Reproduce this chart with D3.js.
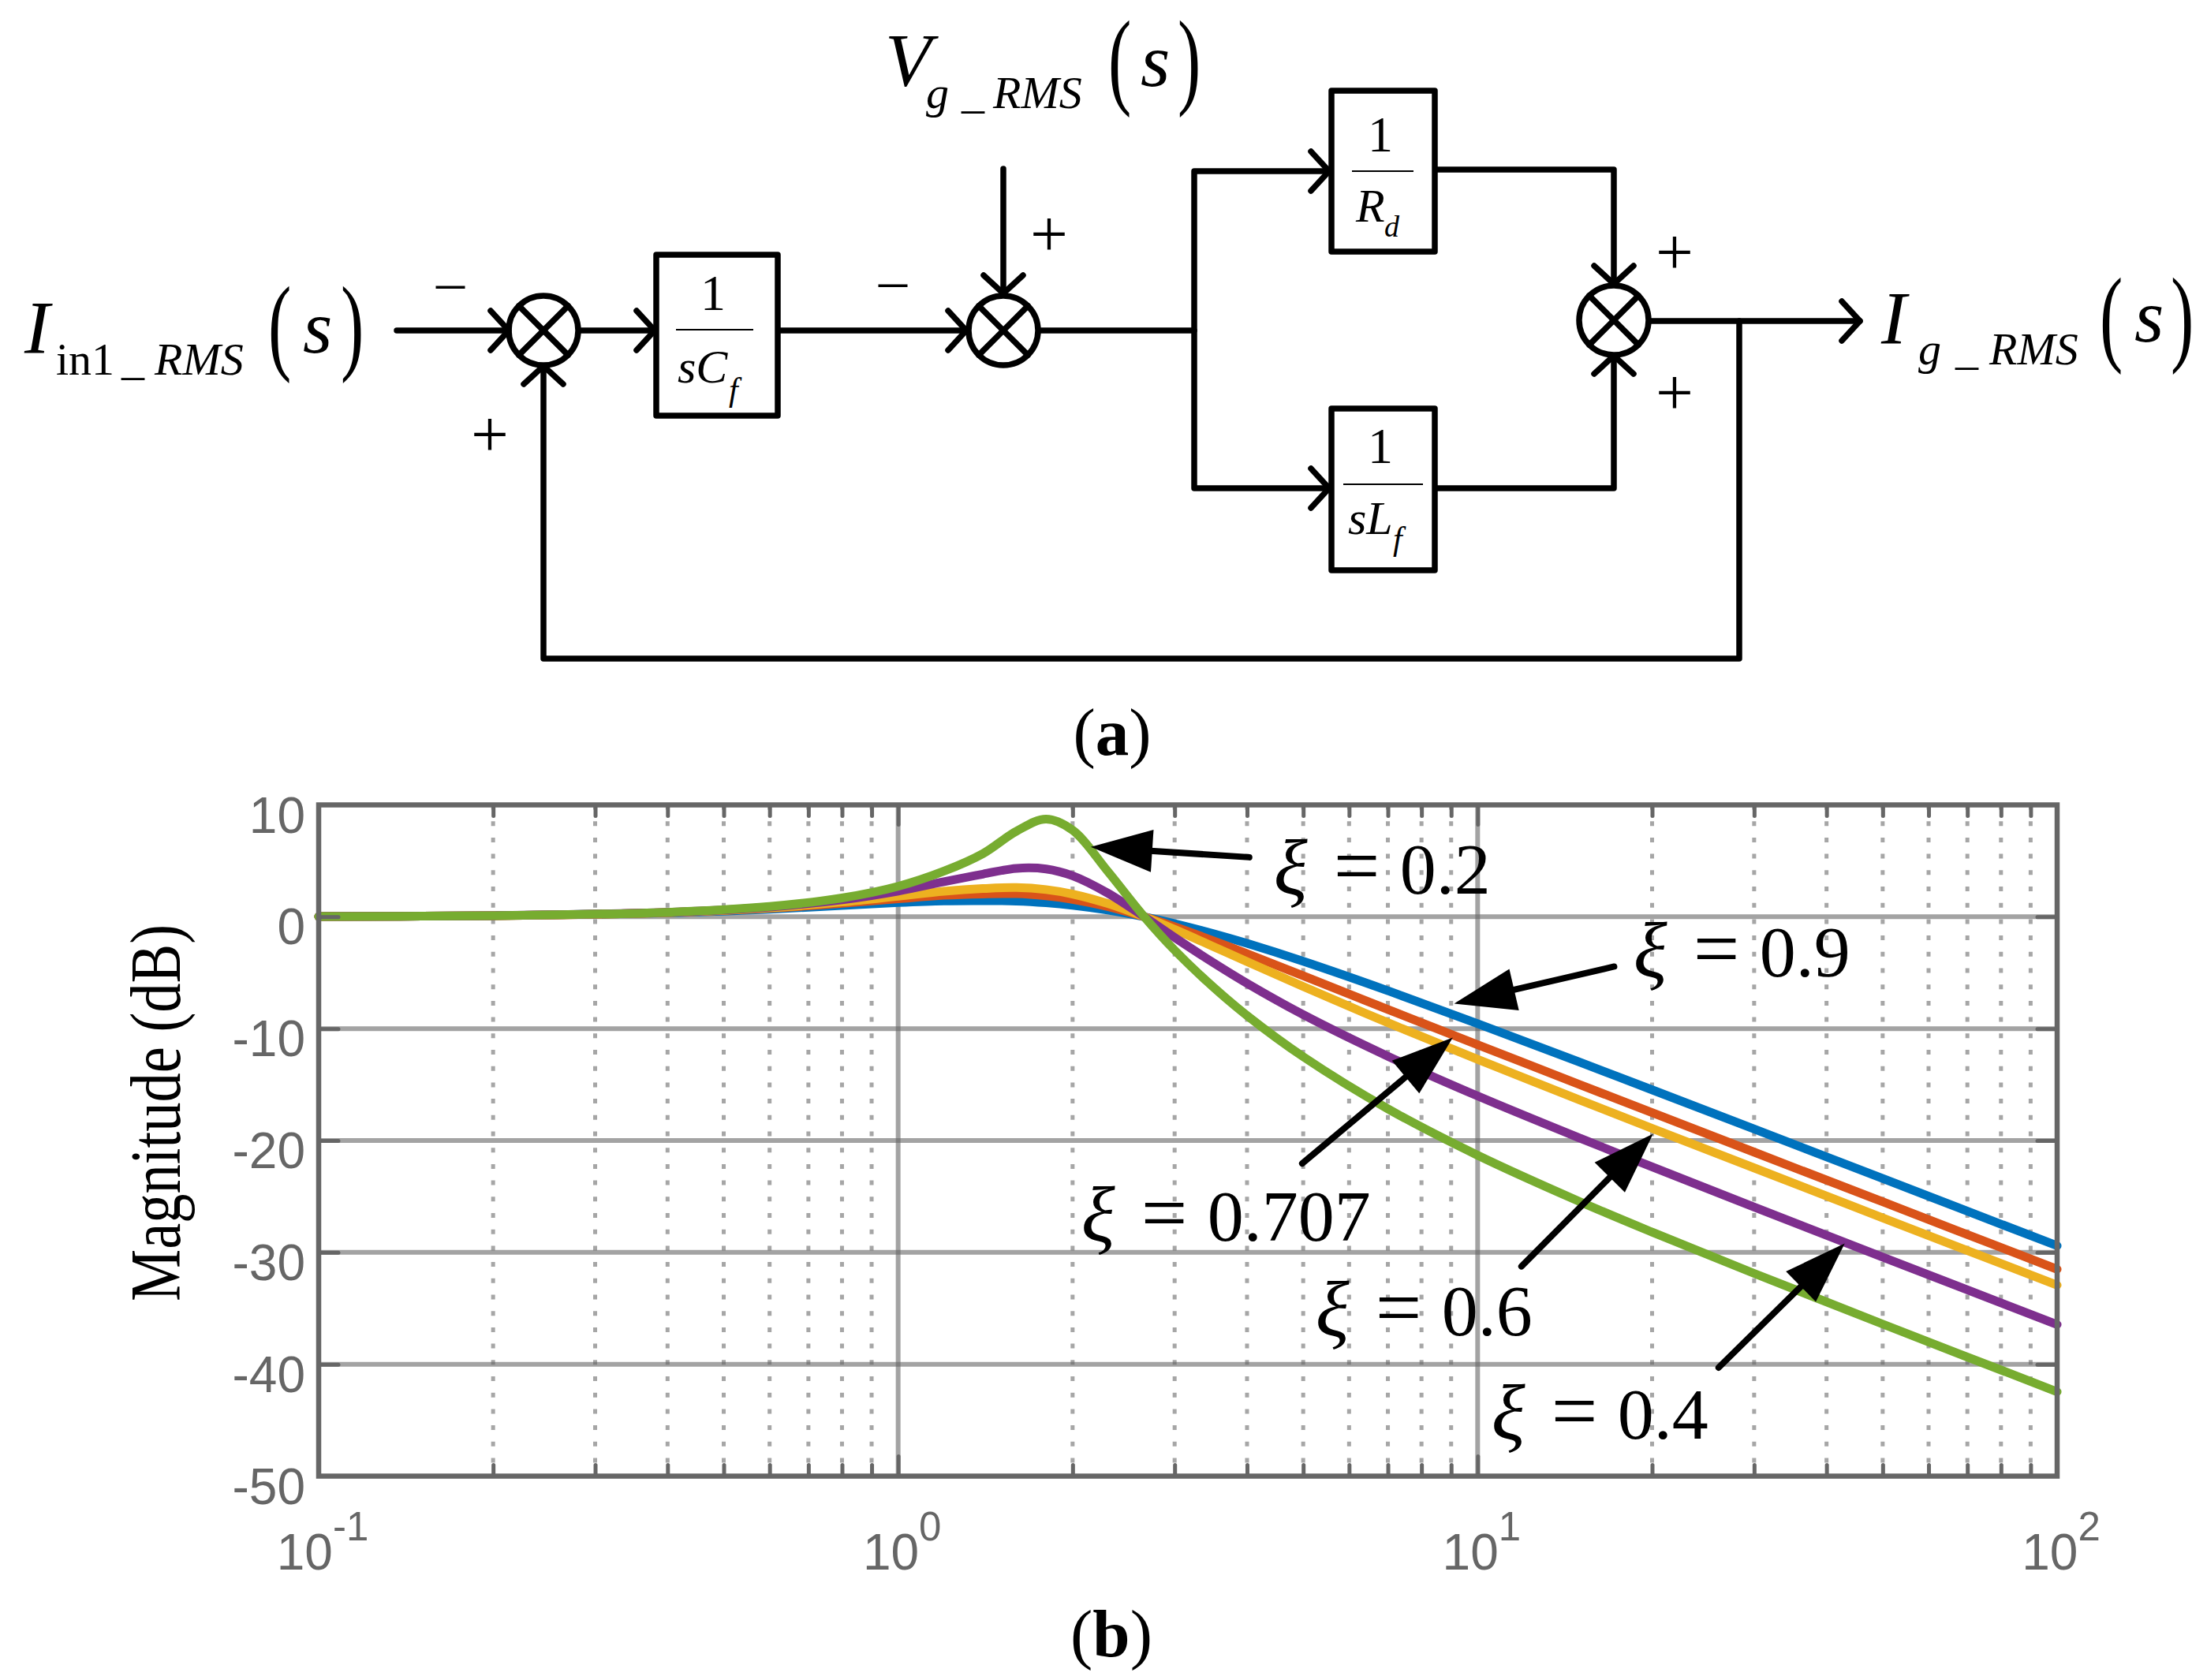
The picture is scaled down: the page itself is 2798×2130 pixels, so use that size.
<!DOCTYPE html>
<html>
<head>
<meta charset="utf-8">
<script src="https://cdn.jsdelivr.net/npm/d3@7"></script>
<style>
  html, body { margin: 0; padding: 0; background: #fff; }
  svg { display: block; }
</style>
</head>
<body>
<div id="chart"></div>
<script>
// bode plot values
var freq = [0.1, 0.2, 0.4, 0.6, 0.8, 1, 1.2, 1.4, 1.6, 1.8, 2, 2.3, 2.65, 3, 3.5, 4, 5, 7, 10, 15, 20, 30, 50, 100];
var mag_09 = [0.02, 0.10, 0.35, 0.68, 1.01, 1.27, 1.42, 1.44, 1.40, 1.25, 1.03, 0.60, 0.02, -0.61, -1.51, -2.38, -3.98, -6.61, -9.56, -13.0, -15.47, -18.97, -23.40, -29.41];
var mag_0707 = [0.02, 0.10, 0.37, 0.76, 1.20, 1.61, 1.92, 2.04, 2.06, 1.87, 1.56, 0.91, 0.02, -0.89, -2.15, -3.30, -5.28, -8.28, -11.44, -15.0, -17.51, -21.04, -25.48, -31.51];
var mag_06 = [0.02, 0.10, 0.38, 0.80, 1.32, 1.84, 2.28, 2.52, 2.61, 2.43, 2.03, 1.18, 0.03, -1.13, -2.67, -4.02, -6.24, -9.47, -12.75, -16.37, -18.91, -22.45, -26.91, -32.93];
var mag_04 = [0.02, 0.10, 0.39, 0.87, 1.52, 2.30, 3.14, 3.81, 4.33, 4.27, 3.66, 2.11, 0.05, -1.85, -4.11, -5.95, -8.75, -12.47, -16.02, -19.78, -22.36, -25.95, -30.42, -36.45];
var mag_02 = [0.02, 0.10, 0.40, 0.92, 1.68, 2.72, 4.08, 5.64, 7.65, 8.73, 7.74, 4.06, 0.09, -2.99, -6.30, -8.83, -12.51, -17.17, -21.32, -25.46, -28.19, -31.88, -36.41, -42.46];
var series = [mag_09, mag_0707, mag_06, mag_04, mag_02];
var colors = ["#0072BD", "#D95319", "#EDB120", "#7E2F8E", "#77AC30"];

var yTicks = [10, 0, -10, -20, -30, -40, -50];
var xMajor = [0.1, 1, 10, 100];
var xExp = ["-1", "0", "1", "2"];
var xMinor = [];
[0.1, 1, 10].forEach(function (d) {
  [2, 3, 4, 5, 6, 7, 8, 9].forEach(function (m) { xMinor.push(d * m); });
});

// arrows, in plot units: frequency and dB
var noteText = ["0.2", "0.9", "0.707", "0.6", "0.4"];
var noteTailF = [4.035, 17.2, 4.98, 11.9, 26.05];
var noteTailM = [5.32, -4.45, -22.05, -31.25, -40.3];
var noteTipF = [2.15, 9.11, 9.06, 20.08, 43.0];
var noteTipM = [6.24, -7.76, -10.8, -19.4, -29.2];
var noteLabelF = [4.446, 18.56, 2.07, 5.25, 10.56];
var noteLabelM = [2.08, -5.32, -28.93, -37.38, -46.62];

var svg = d3.select("#chart").append("svg")
  .attr("width", 2798)
  .attr("height", 2130);

var serif = "'Liberation Serif', 'Times New Roman', serif";
var sans = "'Liberation Sans', Arial, sans-serif";

function label(x, y, txt, size, opts) {
  opts = opts || {};
  return svg.append("text")
    .attr("x", x)
    .attr("y", y)
    .attr("font-family", opts.family || serif)
    .attr("font-size", size)
    .attr("font-style", opts.italic ? "italic" : "normal")
    .attr("font-weight", opts.bold ? "bold" : "normal")
    .attr("text-anchor", opts.anchor || "start")
    .attr("fill", opts.fill || "#000")
    .text(txt);
}

// one text with subscripts placed by hand, parts are [text, x, baseline, size, italic]
function mathText(parts) {
  var t = svg.append("text")
    .attr("font-family", serif)
    .attr("fill", "#000");
  parts.forEach(function (p) {
    t.append("tspan")
      .attr("x", p[1])
      .attr("y", p[2])
      .attr("font-size", p[3])
      .attr("font-style", p[4] ? "italic" : "normal")
      .text(p[0]);
  });
}

// the brackets in the signal names are tall and thin
function paren(x, y, ch) {
  svg.append("text")
    .attr("transform", "translate(" + x + "," + y + ") scale(1,1.55)")
    .attr("font-family", serif)
    .attr("font-size", 88)
    .attr("fill", "#000")
    .text(ch);
}

// ---------- block diagram ----------
var black = "#000";
var sw = 7.5;

var diagram = svg.append("g")
  .attr("fill", "none")
  .attr("stroke", black)
  .attr("stroke-width", sw)
  .attr("stroke-linecap", "round")
  .attr("stroke-linejoin", "round");

var wires = [
  [[503, 419], [645, 419]],
  [[733, 419], [830, 419]],
  [[986, 419], [1225, 419]],
  [[1272, 214], [1272, 372]],
  [[1318, 419], [1514, 419]],
  [[1685, 217], [1514, 217], [1514, 619], [1685, 619]],
  [[1819, 215], [2046, 215], [2046, 360]],
  [[1819, 619], [2046, 619], [2046, 451]],
  [[2092, 407], [2358, 407]],
  [[2205, 407], [2205, 835], [689, 835], [689, 464]]
];
diagram.selectAll("path.wire")
  .data(wires)
  .enter()
  .append("path")
    .attr("class", "wire")
    .attr("d", d3.line());

var blocks = [
  {x: 832, y: 323, w: 154, h: 204},
  {x: 1688, y: 115, w: 131, h: 204},
  {x: 1688, y: 518, w: 131, h: 205}
];
diagram.selectAll("rect")
  .data(blocks)
  .enter()
  .append("rect")
    .attr("x", function (d) { return d.x; })
    .attr("y", function (d) { return d.y; })
    .attr("width", function (d) { return d.w; })
    .attr("height", function (d) { return d.h; })
    .attr("fill", "#fff");

// summing junctions
var junctions = [[689, 419], [1272, 419], [2046, 406]];
var jr = 44;
var jg = diagram.selectAll("g.junction")
  .data(junctions)
  .enter()
  .append("g")
    .attr("class", "junction")
    .attr("transform", function (d) { return "translate(" + d[0] + "," + d[1] + ")"; });
jg.append("circle").attr("r", jr).attr("fill", "#fff");
jg.append("line").attr("x1", -jr * 0.71).attr("y1", -jr * 0.71).attr("x2", jr * 0.71).attr("y2", jr * 0.71);
jg.append("line").attr("x1", -jr * 0.71).attr("y1", jr * 0.71).attr("x2", jr * 0.71).attr("y2", -jr * 0.71);

// open arrow heads: tip x, tip y, angle
var heads = [
  [645, 419, 0], [830, 419, 0], [1225, 419, 0],
  [1272, 372, 90], [689, 464, -90],
  [1685, 217, 0], [1685, 619, 0],
  [2046, 360, 90], [2046, 451, -90],
  [2358, 407, 0]
];
diagram.selectAll("path.head")
  .data(heads)
  .enter()
  .append("path")
    .attr("class", "head")
    .attr("d", "M-23,-25L0,0L-23,25")
    .attr("transform", function (d) { return "translate(" + d[0] + "," + d[1] + ") rotate(" + d[2] + ")"; });

// fraction bars
var bars = [[857, 955, 418], [1714, 1792, 217], [1703, 1804, 614]];
svg.selectAll("line.frac")
  .data(bars)
  .enter()
  .append("line")
    .attr("class", "frac")
    .attr("x1", function (d) { return d[0]; })
    .attr("x2", function (d) { return d[1]; })
    .attr("y1", function (d) { return d[2]; })
    .attr("y2", function (d) { return d[2]; })
    .attr("stroke", black)
    .attr("stroke-width", 2);

label(904, 393, "1", 64, {anchor: "middle"});
mathText([["sC", 859, 485, 60, true], ["f", 924, 508, 42, true]]);
label(1750, 192, "1", 64, {anchor: "middle"});
mathText([["R", 1719, 281, 60, true], ["d", 1755, 300, 38, true]]);
label(1750, 587, "1", 64, {anchor: "middle"});
mathText([["sL", 1709, 677, 60, true], ["f", 1766, 697, 42, true]]);

// signs
[[621, 551], [1330, 297], [2123, 320], [2123, 498]].forEach(function (d) {
  label(d[0], d[1] + 28, "+", 85, {anchor: "middle"});
});
[[571, 364], [1132, 362]].forEach(function (d) {
  label(d[0], d[1] + 17, "\u2013", 72, {anchor: "middle"});
});

// signal names
mathText([["I", 31, 448, 96, true], ["in1", 71, 475, 58, false], ["_", 154, 475, 58, false], ["RMS", 196, 475, 58, true]]);
paren(340, 457, "(");
label(384, 447, "s", 96, {italic: true});
paren(432, 457, ")");

mathText([["V", 1122, 109, 96, true], ["g", 1174, 137, 58, true], ["_", 1219, 137, 58, false], ["RMS", 1259, 137, 58, true]]);
paren(1405, 120, "(");
label(1446, 109, "s", 96, {italic: true});
paren(1493, 120, ")");

mathText([["I", 2385, 436, 96, true], ["g", 2432, 462, 58, true], ["_", 2479, 462, 58, false], ["RMS", 2522, 462, 58, true]]);
paren(2662, 446, "(");
label(2706, 433, "s", 96, {italic: true});
paren(2752, 446, ")");

var capA = label(1410, 957, "", 85, {anchor: "middle"});
capA.append("tspan").text("(");
capA.append("tspan").attr("font-weight", "bold").text("a");
capA.append("tspan").text(")");

var capB = label(1409, 2100, "", 85, {anchor: "middle"});
capB.append("tspan").text("(");
capB.append("tspan").attr("font-weight", "bold").text("b");
capB.append("tspan").text(")");

// ---------- bode plot ----------
var axisColor = "#666";
var left = 404, right = 2608, top_ = 1020.5, bottom = 1871.5;

var x = d3.scaleLog().domain([0.1, 100]).range([left, right]);
var y = d3.scaleLinear().domain([-50, 10]).range([bottom, top_]);

// grid
var grid = svg.append("g");
grid.selectAll("line.minor")
  .data(xMinor)
  .enter()
  .append("line")
    .attr("class", "minor")
    .attr("x1", function (d) { return x(d); })
    .attr("x2", function (d) { return x(d); })
    .attr("y1", top_)
    .attr("y2", bottom)
    .attr("stroke", "#a6a6a6")
    .attr("stroke-width", 5)
    .attr("stroke-dasharray", "6 14.7");
grid.selectAll("line.majorx")
  .data(xMajor.slice(1, 3))
  .enter()
  .append("line")
    .attr("class", "majorx")
    .attr("x1", function (d) { return x(d); })
    .attr("x2", function (d) { return x(d); })
    .attr("y1", top_)
    .attr("y2", bottom)
    .attr("stroke", axisColor)
    .attr("stroke-opacity", 0.6)
    .attr("stroke-width", 6);
grid.selectAll("line.majory")
  .data(yTicks.slice(1, 6))
  .enter()
  .append("line")
    .attr("class", "majory")
    .attr("x1", left)
    .attr("x2", right)
    .attr("y1", function (d) { return y(d); })
    .attr("y2", function (d) { return y(d); })
    .attr("stroke", axisColor)
    .attr("stroke-opacity", 0.6)
    .attr("stroke-width", 6);

// curves
var line = d3.line()
  .x(function (d, i) { return x(freq[i]); })
  .y(function (d) { return y(d); })
  .curve(d3.curveCatmullRom.alpha(0.5));

svg.append("g").selectAll("path")
  .data(series)
  .enter()
  .append("path")
    .attr("d", line)
    .attr("fill", "none")
    .attr("stroke", function (d, i) { return colors[i]; })
    .attr("stroke-width", 11)
    .attr("stroke-linejoin", "round")
    .attr("stroke-linecap", "round");

// axes, ticks point inwards
function styleAxis(g) {
  g.select(".domain").remove();
  g.selectAll("line")
    .attr("stroke", axisColor)
    .attr("stroke-width", 5)
    .attr("stroke-linecap", "round");
}

svg.append("g").attr("transform", "translate(" + left + ",0)")
  .call(d3.axisLeft(y).tickValues(yTicks.slice(1, 6)).tickSize(-25).tickFormat(""))
  .call(styleAxis);
svg.append("g").attr("transform", "translate(" + right + ",0)")
  .call(d3.axisRight(y).tickValues(yTicks.slice(1, 6)).tickSize(-25).tickFormat(""))
  .call(styleAxis);
svg.append("g").attr("transform", "translate(0," + bottom + ")")
  .call(d3.axisBottom(x).tickValues(xMinor).tickSize(-14).tickFormat(""))
  .call(styleAxis);
svg.append("g").attr("transform", "translate(0," + top_ + ")")
  .call(d3.axisTop(x).tickValues(xMinor).tickSize(-14).tickFormat(""))
  .call(styleAxis);
svg.append("g").attr("transform", "translate(0," + bottom + ")")
  .call(d3.axisBottom(x).tickValues(xMajor.slice(1, 3)).tickSize(-25).tickFormat(""))
  .call(styleAxis);
svg.append("g").attr("transform", "translate(0," + top_ + ")")
  .call(d3.axisTop(x).tickValues(xMajor.slice(1, 3)).tickSize(-25).tickFormat(""))
  .call(styleAxis);

svg.append("rect")
  .attr("x", left)
  .attr("y", top_)
  .attr("width", right - left)
  .attr("height", bottom - top_)
  .attr("fill", "none")
  .attr("stroke", axisColor)
  .attr("stroke-width", 6.5);

// tick labels
svg.append("g").selectAll("text")
  .data(yTicks)
  .enter()
  .append("text")
    .attr("x", 387)
    .attr("y", function (d) { return y(d) + 35; })
    .attr("text-anchor", "end")
    .attr("font-family", sans)
    .attr("font-size", 64)
    .attr("fill", axisColor)
    .text(function (d) { return String(d); });

var xLabels = svg.append("g").selectAll("text")
  .data(xMajor)
  .enter()
  .append("text")
    .attr("x", function (d) { return x(d) + 5; })
    .attr("y", 1990)
    .attr("text-anchor", "middle")
    .attr("font-family", sans)
    .attr("font-size", 64)
    .attr("fill", axisColor);
xLabels.append("tspan").text("10");
xLabels.append("tspan")
  .attr("dy", -37)
  .attr("font-size", 51)
  .text(function (d, i) { return xExp[i]; });

// y axis title
svg.append("text")
  .attr("transform", "translate(228,1411) rotate(-90)")
  .attr("text-anchor", "middle")
  .attr("font-family", serif)
  .attr("font-size", 90)
  .attr("textLength", 478)
  .attr("lengthAdjust", "spacingAndGlyphs")
  .attr("fill", "#000")
  .text("Magnitude (dB)");

// annotations
noteText.forEach(function (t, i) {
  var tx = x(noteTailF[i]), ty = y(noteTailM[i]);
  var px = x(noteTipF[i]), py = y(noteTipM[i]);
  var ang = Math.atan2(py - ty, px - tx) * 180 / Math.PI;
  var len = Math.sqrt((px - tx) * (px - tx) + (py - ty) * (py - ty));
  var g = svg.append("g")
    .attr("transform", "translate(" + tx + "," + ty + ") rotate(" + ang + ")");
  g.append("line")
    .attr("x1", 0)
    .attr("x2", len - 60)
    .attr("stroke", black)
    .attr("stroke-width", 8)
    .attr("stroke-linecap", "round");
  g.append("path")
    .attr("d", "M" + len + ",0L" + (len - 78) + ",-27L" + (len - 78) + ",27Z")
    .attr("fill", black);

  var lx = x(noteLabelF[i]), ly = y(noteLabelM[i]);
  label(lx, ly, "\u03BE", 100, {italic: true});
  label(lx + 76, ly, "=", 104);
  label(lx + 160, ly, t, 92);
});
</script>
</body>
</html>
